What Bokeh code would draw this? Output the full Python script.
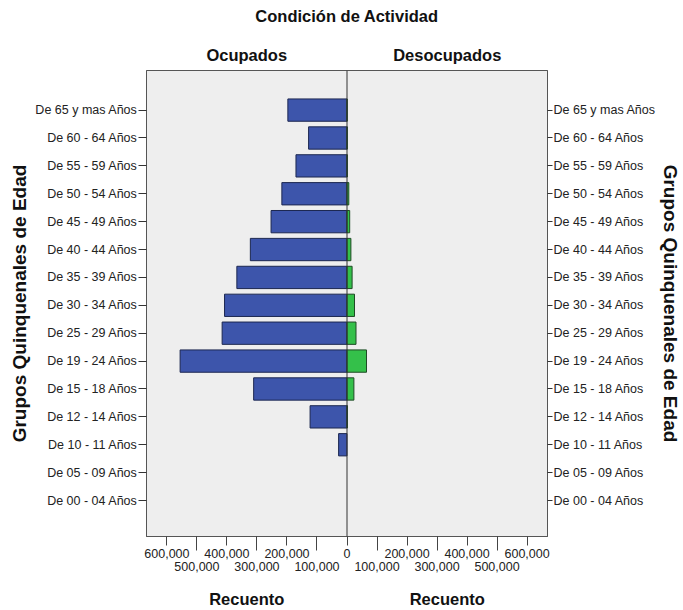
from bokeh.plotting import figure
from bokeh.models import Range1d, FixedTicker, LinearAxis, Span, ColumnDataSource
from bokeh.embed import file_html
from bokeh.resources import INLINE

# ---- data (bottom to top) ----
grupos = ["De 00 - 04 Años", "De 05 - 09 Años", "De 10 - 11 Años", "De 12 - 14 Años",
          "De 15 - 18 Años", "De 19 - 24 Años", "De 25 - 29 Años", "De 30 - 34 Años",
          "De 35 - 39 Años", "De 40 - 44 Años", "De 45 - 49 Años", "De 50 - 54 Años",
          "De 55 - 59 Años", "De 60 - 64 Años", "De 65 y mas Años"]
ocupados = [0, 0, 28000, 123000, 311000, 556000, 416000, 408000, 367000, 322000,
            253000, 217000, 170000, 128000, 197000]
desocupados = [0, 0, 0, 1500, 23000, 65000, 30000, 25000, 17000, 13000,
               9000, 6000, 1000, 1000, 500]
x_ticks = [-600000, -500000, -400000, -300000, -200000, -100000, 0,
           100000, 200000, 300000, 400000, 500000, 600000]
paneles = ["Ocupados", "Desocupados"]
titulo = "Condición de Actividad"
eje_x = "Recuento"
eje_y = "Grupos Quinquenales de Edad"

FONT = "Liberation Sans"
X_HALF = 668000

oc_y = [i for i, v in enumerate(ocupados) if v > 0]
oc_src = ColumnDataSource(dict(
    y=oc_y,
    left=[-ocupados[i] for i in oc_y],
    right=[0] * len(oc_y),
))
de_y = [i for i, v in enumerate(desocupados) if v > 0]
de_src = ColumnDataSource(dict(
    y=de_y,
    left=[0] * len(de_y),
    right=[desocupados[i] for i in de_y],
))

p = figure(width=683, height=610, output_backend="svg", toolbar_location=None,
           x_range=Range1d(-X_HALF, X_HALF), y_range=Range1d(-1.29, 15.42),
           min_border_left=146, min_border_right=136, min_border_top=70,
           min_border_bottom=74, background_fill_color="#eeeeee",
           border_fill_color="white", outline_line_color="#555555")
p.grid.visible = False

p.hbar(y="y", left="left", right="right", height=0.8, source=oc_src,
       fill_color="#3d55ab", line_color="#1c2750", line_width=1)
p.hbar(y="y", left="left", right="right", height=0.8, source=de_src,
       fill_color="#34c04a", line_color="#1f4a25", line_width=1)
p.add_layout(Span(location=0, dimension="height", line_color="#333333", line_width=1))

def label_axis(ticks, labels, standoff, size="16.5px"):
    ax = LinearAxis(ticker=FixedTicker(ticks=ticks, minor_ticks=[]),
                    major_label_overrides=dict(zip(ticks, labels)))
    ax.major_tick_out = 0
    ax.major_tick_in = 0
    ax.axis_line_color = None
    ax.major_label_standoff = standoff
    ax.major_label_text_font = FONT
    ax.major_label_text_font_size = size
    ax.major_label_text_font_style = "bold"
    ax.major_label_text_color = "#111111"
    return ax

half_centers = [-X_HALF / 2, X_HALF / 2]

# bottom numeric axis (staggered labels, longer ticks for the lower row)
overrides = {}
for i, t in enumerate(x_ticks):
    lab = f"{abs(t):,}"
    overrides[t] = lab if i % 2 == 0 else "\n" + lab
odd_ticks = [t for i, t in enumerate(x_ticks) if i % 2 == 1]
xa = p.xaxis[0]
xa.ticker = FixedTicker(ticks=x_ticks, minor_ticks=odd_ticks)
xa.major_label_overrides = overrides
xa.major_tick_out = 9
xa.major_tick_in = 0
xa.minor_tick_out = 14
xa.minor_tick_in = 0
xa.major_label_standoff = -4
xa.major_label_text_font = FONT
xa.major_label_text_font_size = "12.5px"
xa.major_label_text_line_height = 0.95
xa.major_label_text_color = "#222222"
xa.axis_line_color = "#555555"
xa.major_tick_line_color = "#444444"
xa.minor_tick_line_color = "#444444"

# bottom "Recuento" labels
p.add_layout(label_axis(half_centers, [eje_x, eje_x], 13), "below")

# top: panel headings, then overall title above them
p.add_layout(label_axis(half_centers, paneles, 7), "above")
p.add_layout(label_axis([0], [titulo], 18), "above")

# y axes (left and right)
pos = list(range(len(grupos)))
y_over = {i: g for i, g in enumerate(grupos)}
def style_y(ax, tick, standoff):
    ax.ticker = FixedTicker(ticks=pos, minor_ticks=[])
    ax.major_label_overrides = y_over
    ax.major_tick_out = tick
    ax.major_tick_in = 0
    ax.major_label_standoff = 1
    ax.major_label_text_font = FONT
    ax.major_label_text_font_size = "12.5px"
    ax.major_label_text_color = "#222222"
    ax.axis_line_color = "#555555"
    ax.major_tick_line_color = "#333333"
    ax.axis_label = eje_y
    ax.axis_label_text_font = FONT
    ax.axis_label_text_font_size = "19px"
    ax.axis_label_text_font_style = "bold"
    ax.axis_label_text_color = "#111111"
    ax.axis_label_standoff = standoff

style_y(p.yaxis[0], 8, 2)
yr = LinearAxis()
style_y(yr, 5, 1)
p.add_layout(yr, "right")

open("out.html", "w").write(file_html(p, INLINE))
